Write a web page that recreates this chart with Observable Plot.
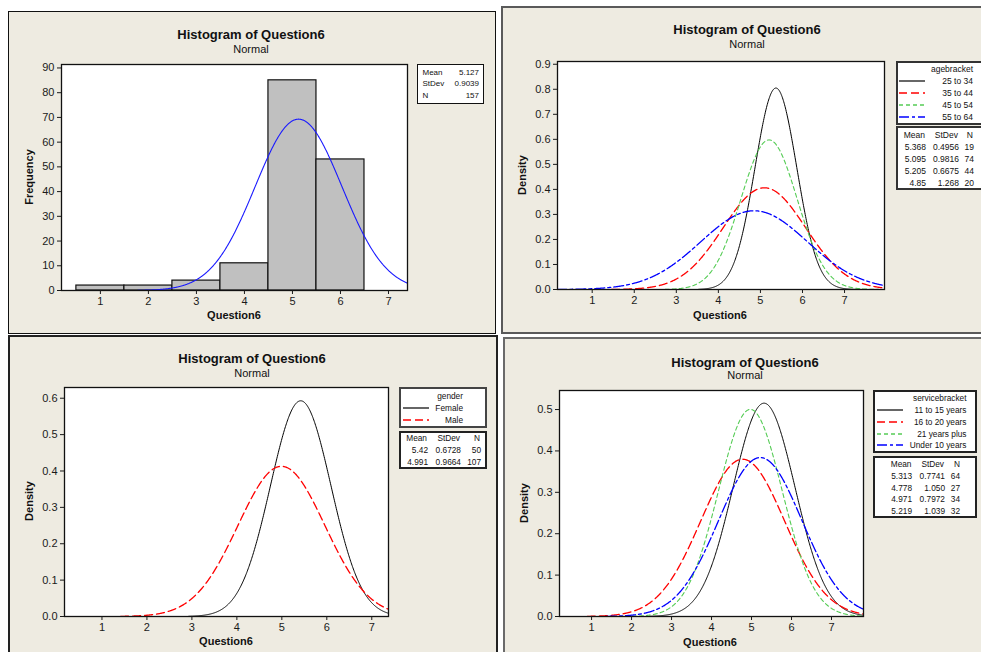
<!DOCTYPE html>
<html><head><meta charset="utf-8">
<script src="https://cdn.jsdelivr.net/npm/d3@7"></script>
<script src="https://cdn.jsdelivr.net/npm/@observablehq/plot@0.6"></script>
<style>
body{margin:0;background:#fff;}
#root{position:relative;width:981px;height:652px;overflow:hidden;font-family:"Liberation Sans",Arial,sans-serif;color:#111;}
.panel{position:absolute;background:#eeebe1;box-sizing:border-box;}
.t{position:absolute;white-space:nowrap;line-height:1;}
.box{position:absolute;background:#fff;box-sizing:border-box;}
svg.sw{position:absolute;overflow:visible;}
</style></head><body><div id="root"></div>
<script>
// ---------- data ----------
const titleText = "Histogram of Question6";
const subtitleText = "Normal";
const xLabel = "Question6";

const histBins = [1, 2, 3, 4, 5, 6];
const histCounts = [2, 2, 4, 11, 85, 53];
const overallMean = ["5.127"], overallSd = ["0.9039"], overallN = ["157"];

const ageGroups = ["25 to 34", "35 to 44", "45 to 54", "55 to 64"];
const ageMean = ["5.368", "5.095", "5.205", "4.85"];
const ageSd = ["0.4956", "0.9816", "0.6675", "1.268"];
const ageN = ["19", "74", "44", "20"];

const genderGroups = ["Female", "Male"];
const genderMean = ["5.42", "4.991"];
const genderSd = ["0.6728", "0.9664"];
const genderN = ["50", "107"];

const serviceGroups = ["11 to 15 years", "16 to 20 years", "21 years plus", "Under 10 years"];
const serviceMean = ["5.313", "4.778", "4.971", "5.219"];
const serviceSd = ["0.7741", "1.050", "0.7972", "1.039"];
const serviceN = ["64", "27", "34", "32"];

const xTicks = [1, 2, 3, 4, 5, 6, 7];
const freqTicks = [0, 10, 20, 30, 40, 50, 60, 70, 80, 90];
const ageTicks = [0, 0.1, 0.2, 0.3, 0.4, 0.5, 0.6, 0.7, 0.8, 0.9];
const genderTicks = [0, 0.1, 0.2, 0.3, 0.4, 0.5, 0.6];
const serviceTicks = [0, 0.1, 0.2, 0.3, 0.4, 0.5];

// ---------- styles ----------
const seriesColor = ["#000000", "#ff0000", "#55cc55", "#0000ff"];
const seriesDash = [null, "8,4", "4,3", "10,3,3,3"];
const seriesWidth = [1, 1.3, 1.1, 1.3];
const FONT = '"Liberation Sans", Arial, sans-serif';

const root = document.getElementById("root");

// normal fit curve (Minitab's fitted Normal distribution)
function fitCurve(mean, sd, factor, xmax) {
  const pts = [];
  const x0 = mean - 3.7 * sd;
  for (let x = x0; x <= xmax + 0.02; x += 0.01) {
    const z = (x - mean) / sd;
    pts.push({x, y: factor * Math.exp(-0.5 * z * z) / (sd * Math.sqrt(2 * Math.PI))});
  }
  return pts;
}

function panel(l, t, w, h, border) {
  const d = document.createElement("div");
  d.className = "panel";
  Object.assign(d.style, {left: l + "px", top: t + "px", width: w + "px", height: h + "px", border});
  root.appendChild(d);
}
function text(x, y, s, {size = 11, weight = "normal", anchor = "middle", rotate = false} = {}) {
  const d = document.createElement("div");
  d.className = "t";
  d.textContent = s;
  d.style.fontSize = size + "px";
  d.style.fontWeight = weight;
  d.style.left = x + "px";
  d.style.top = y + "px";
  const tx = anchor === "middle" ? "-50%" : anchor === "end" ? "-100%" : "0";
  d.style.transform = rotate ? "translate(-50%,-50%) rotate(-90deg)" : `translate(${tx},-50%)`;
  root.appendChild(d);
}
function box(l, t, w, h, border) {
  const d = document.createElement("div");
  d.className = "box";
  Object.assign(d.style, {left: l + "px", top: t + "px", width: w + "px", height: h + "px", border});
  root.appendChild(d);
}
function swatch(x1, x2, y, i) {
  const ns = "http://www.w3.org/2000/svg";
  const s = document.createElementNS(ns, "svg");
  s.setAttribute("class", "sw");
  s.setAttribute("width", x2 - x1);
  s.setAttribute("height", 4);
  s.style.left = x1 + "px";
  s.style.top = (y - 2) + "px";
  const ln = document.createElementNS(ns, "line");
  ln.setAttribute("x1", 0); ln.setAttribute("x2", x2 - x1);
  ln.setAttribute("y1", 2); ln.setAttribute("y2", 2);
  ln.setAttribute("stroke", seriesColor[i]);
  ln.setAttribute("stroke-width", seriesWidth[i] + 0.2);
  if (seriesDash[i]) ln.setAttribute("stroke-dasharray", seriesDash[i]);
  s.appendChild(ln);
  root.appendChild(s);
}

function chart({pl, pt, frame, xDomain, yDomain, yTicks, yFmt, marks}) {
  const mr = 20, mb = 24;
  const w = frame.r + mr - pl, h = frame.b + mb - pt;
  const svg = Plot.plot({
    width: w, height: h,
    marginLeft: frame.l - pl, marginTop: frame.t - pt, marginRight: mr, marginBottom: mb,
    x: {domain: xDomain},
    y: {domain: yDomain},
    style: {background: "transparent", fontFamily: FONT, fontSize: "11px", color: "#1a1a1a", overflow: "visible"},
    marks: [
      Plot.frame({fill: "white", stroke: "none"}),
      ...marks,
      Plot.frame({stroke: "#111", strokeWidth: 1.3}),
      Plot.axisX({ticks: xTicks, tickSize: 4, tickPadding: 3, label: null, fontSize: 11}),
      Plot.axisY({ticks: yTicks, tickFormat: yFmt, tickSize: 4, tickPadding: 3, label: null, fontSize: 11})
    ]
  });
  svg.style.position = "absolute";
  svg.style.left = pl + "px";
  svg.style.top = pt + "px";
  root.appendChild(svg);
}

function groupLines(means, sds, xmax) {
  return means.map((m, i) => Plot.line(fitCurve(+m, +sds[i], 1, xmax), {
    x: "x", y: "y", stroke: seriesColor[i], strokeWidth: seriesWidth[i],
    strokeDasharray: seriesDash[i] || undefined, clip: true
  }));
}

// ---------- Panel 1: overall histogram ----------
panel(8, 11, 488, 323, "1.6px solid #111");
const histData = histBins.map((b, i) => ({x1: b - 0.5, x2: b + 0.5, count: histCounts[i]}));
chart({
  pl: 8, pt: 11, frame: {l: 61, r: 407, t: 64, b: 290},
  xDomain: [0.19, 7.396], yDomain: [0, 91.4], yTicks: freqTicks, yFmt: d3.format("d"),
  marks: [
    Plot.rectY(histData, {x1: "x1", x2: "x2", y: "count", fill: "#c0c0c0", stroke: "#111", strokeWidth: 1.2, inset: 0}),
    Plot.line(fitCurve(+overallMean[0], +overallSd[0], +overallN[0], 7.5), {x: "x", y: "y", stroke: "#1a1aff", strokeWidth: 1.1, clip: true})
  ]
});
text(251, 34, titleText, {size: 13, weight: "bold"});
text(251, 49, subtitleText, {size: 11});
text(29, 177, "Frequency", {size: 11, weight: "bold", rotate: true});
text(234, 315, xLabel, {size: 11, weight: "bold"});
box(417, 64, 67, 40, "1.5px solid #111");
[["Mean", overallMean[0]], ["StDev", overallSd[0]], ["N", overallN[0]]].forEach(([k, v], i) => {
  const y = [72.5, 84, 95.5][i];
  text(422.5, y, k, {size: 8, anchor: "start"});
  text(479, y, v, {size: 8, anchor: "end"});
});

// ---------- Panel 2: by age ----------
panel(501, 6, 490, 328, "2px solid #5a5a5a");
chart({
  pl: 501, pt: 6, frame: {l: 557, r: 884, t: 61, b: 289},
  xDomain: [0.175, 7.95], yDomain: [0, 0.911], yTicks: ageTicks, yFmt: d3.format(".1f"),
  marks: groupLines(ageMean, ageSd, 8)
});
text(747, 29, titleText, {size: 13, weight: "bold"});
text(747, 44, subtitleText, {size: 11});
text(522, 175, "Density", {size: 11, weight: "bold", rotate: true});
text(720, 315, xLabel, {size: 11, weight: "bold"});
box(896, 61, 100, 64, "2px solid #333");
text(973, 69, "agebracket", {size: 8.5, anchor: "end"});
ageGroups.forEach((g, i) => {
  const y = 81 + 12 * i;
  swatch(899, 925, y, i);
  text(973, y, g, {size: 8.5, anchor: "end"});
});
box(896, 126, 100, 64, "2px solid #333");
text(925, 135, "Mean", {size: 8.5, anchor: "end"});
text(958, 135, "StDev", {size: 8.5, anchor: "end"});
text(973, 135, "N", {size: 8.5, anchor: "end"});
ageGroups.forEach((g, i) => {
  const y = 147 + 12 * i;
  text(926, y, ageMean[i], {size: 8.5, anchor: "end"});
  text(959, y, ageSd[i], {size: 8.5, anchor: "end"});
  text(974, y, ageN[i], {size: 8.5, anchor: "end"});
});

// ---------- Panel 3: by gender ----------
panel(8, 335, 490, 330, "2px solid #222");
chart({
  pl: 8, pt: 335, frame: {l: 64, r: 388, t: 387, b: 616},
  xDomain: [0.167, 7.372], yDomain: [0, 0.6295], yTicks: genderTicks, yFmt: d3.format(".1f"),
  marks: groupLines(genderMean, genderSd, 7.5)
});
text(252, 358, titleText, {size: 13, weight: "bold"});
text(252, 373, subtitleText, {size: 11});
text(29, 501, "Density", {size: 11, weight: "bold", rotate: true});
text(226, 641, xLabel, {size: 11, weight: "bold"});
box(399, 387, 88, 41, "2px solid #444");
text(463, 396, "gender", {size: 8.3, anchor: "end"});
genderGroups.forEach((g, i) => {
  const y = 407.7 + 12 * i;
  swatch(403, 429, y, i);
  text(463, y, g, {size: 8.3, anchor: "end"});
});
box(399, 431, 88, 38, "2px solid #222");
text(427, 438, "Mean", {size: 8.3, anchor: "end"});
text(460, 438, "StDev", {size: 8.3, anchor: "end"});
text(480, 438, "N", {size: 8.3, anchor: "end"});
genderGroups.forEach((g, i) => {
  const y = 450 + 12 * i;
  text(428, y, genderMean[i], {size: 8.3, anchor: "end"});
  text(461, y, genderSd[i], {size: 8.3, anchor: "end"});
  text(481, y, genderN[i], {size: 8.3, anchor: "end"});
});

// ---------- Panel 4: by service bracket ----------
panel(503, 337, 490, 330, "2px solid #6a6a6a");
chart({
  pl: 503, pt: 337, frame: {l: 559, r: 863, t: 390, b: 616},
  xDomain: [0.198, 7.8], yDomain: [0, 0.546], yTicks: serviceTicks, yFmt: d3.format(".1f"),
  marks: groupLines(serviceMean, serviceSd, 7.9)
});
text(745, 362, titleText, {size: 13, weight: "bold"});
text(745, 375, subtitleText, {size: 11});
text(524, 503, "Density", {size: 11, weight: "bold", rotate: true});
text(710, 642, xLabel, {size: 11, weight: "bold"});
box(873, 390, 104, 63, "2px solid #222");
text(966.5, 397.7, "servicebracket", {size: 8.3, anchor: "end"});
serviceGroups.forEach((g, i) => {
  const y = [410, 422, 434, 445][i];
  swatch(877, 903, y, i);
  text(966.5, y, g, {size: 8.3, anchor: "end"});
});
box(873, 456, 104, 62, "2px solid #222");
text(911.5, 464, "Mean", {size: 8.3, anchor: "end"});
text(944, 464, "StDev", {size: 8.3, anchor: "end"});
text(960, 464, "N", {size: 8.3, anchor: "end"});
serviceGroups.forEach((g, i) => {
  const y = [476, 488, 499, 511][i];
  text(912, y, serviceMean[i], {size: 8.3, anchor: "end"});
  text(945, y, serviceSd[i], {size: 8.3, anchor: "end"});
  text(960, y, serviceN[i], {size: 8.3, anchor: "end"});
});
</script></body></html>
